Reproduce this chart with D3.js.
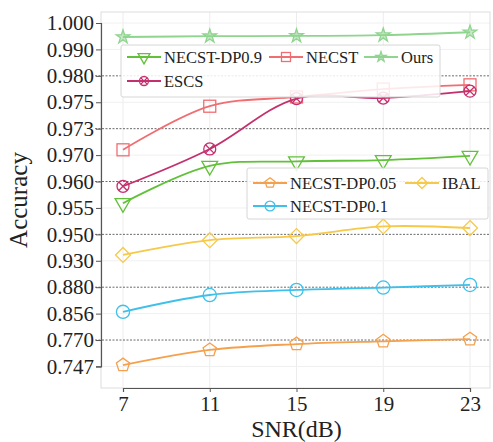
<!DOCTYPE html>
<html>
<head>
<meta charset="utf-8">
<script src="https://cdn.jsdelivr.net/npm/d3@7"></script>
<style>
  body { margin: 0; background: #fff; }
</style>
</head>
<body>
<div id="chart"></div>
<script>
// SNR values on x axis
const snr = [7, 11, 15, 19, 23];

// y axis tick labels (evenly spaced, non-linear)
const yTicks = [0.747, 0.770, 0.856, 0.880, 0.930, 0.950, 0.955, 0.960, 0.970, 0.973, 0.975, 0.980, 0.990, 1.000];
const dashedTicks = [0.980, 0.973, 0.960, 0.950, 0.880, 0.770];

// series values
const ours      = [0.9947, 0.9950, 0.9951, 0.9954, 0.9965];
const necst     = [0.9706, 0.9747, 0.9760, 0.9775, 0.9783];
const escs      = [0.9591, 0.9707, 0.9757, 0.9758, 0.9771];
const necstDp09 = [0.9559, 0.9659, 0.9676, 0.9681, 0.9697];
const ibal      = [0.9344, 0.9456, 0.9487, 0.9515, 0.9512];
const necstDp01 = [0.8576, 0.8729, 0.8775, 0.8797, 0.8843];
const necstDp05 = [0.7482, 0.7614, 0.7665, 0.7689, 0.7729];

const series = [
  { name: "NECST-DP0.9", values: necstDp09, color: "#62c03a", marker: "triDown" },
  { name: "NECST", values: necst, color: "#f06d72", marker: "square" },
  { name: "Ours", values: ours, color: "#8fd48f", marker: "star" },
  { name: "ESCS", values: escs, color: "#c4306e", marker: "xcircle" },
  { name: "NECST-DP0.05", values: necstDp05, color: "#f5a04c", marker: "pentagon" },
  { name: "IBAL", values: ibal, color: "#f6c94a", marker: "diamond" },
  { name: "NECST-DP0.1", values: necstDp01, color: "#3fc0ea", marker: "circle" }
];

const FONT = "'Liberation Serif', 'Times New Roman', Times, 'DejaVu Serif', serif";
const W = 493, H = 442;
const margin = { top: 12, right: 3, bottom: 54, left: 101 };
const iw = W - margin.left - margin.right;
const ih = H - margin.top - margin.bottom;

const svg = d3.select("#chart").append("svg").attr("width", W).attr("height", H)
  .style("font-family", FONT);
const g = svg.append("g").attr("transform", `translate(${margin.left},${margin.top})`);

const x = d3.scaleLinear().domain([7, 23]).range([22, 369]);
// piecewise scale: each tick label sits at an even step
const yTop = 11, yStep = 26.42;
const y = d3.scaleLinear()
  .domain(yTicks)
  .range(yTicks.map((d, i) => yTop + (yTicks.length - 1 - i) * yStep));

// light grid
g.append("g").selectAll("line").data(snr).join("line")
  .attr("x1", d => x(d)).attr("x2", d => x(d)).attr("y1", 0).attr("y2", ih)
  .attr("stroke", "#ececec").attr("stroke-width", 1);
g.append("g").selectAll("line").data(yTicks.filter(t => !dashedTicks.includes(t))).join("line")
  .attr("x1", 0).attr("x2", iw).attr("y1", d => y(d)).attr("y2", d => y(d))
  .attr("stroke", "#f0f0f0").attr("stroke-width", 1);

// dashed reference lines
g.append("g").selectAll("line").data(dashedTicks).join("line")
  .attr("x1", -6).attr("x2", iw).attr("y1", d => y(d)).attr("y2", d => y(d))
  .attr("stroke", "#6a6a6a").attr("stroke-width", 1).attr("stroke-dasharray", "2,1.5");

// frame
g.append("rect").attr("width", iw).attr("height", ih)
  .attr("fill", "none").attr("stroke", "#dddddd");

// axes
const yAxis = g.append("g").call(d3.axisLeft(y).tickValues(yTicks).tickFormat(d3.format(".3f")).tickSize(5).tickPadding(2));
const xAxis = g.append("g").attr("transform", `translate(0,${ih})`)
  .call(d3.axisBottom(x).tickValues(snr).tickSize(4).tickPadding(4));
[yAxis, xAxis].forEach(a => {
  a.attr("font-family", null).attr("font-size", null);
  a.select(".domain").attr("stroke", "#555").attr("stroke-width", 1.2);
  a.selectAll(".tick line").attr("stroke", "#555");
  a.selectAll("text").attr("fill", "#222").style("font-family", FONT).style("font-size", "21px");
});

svg.append("text").attr("x", margin.left + x(15)).attr("y", 437)
  .attr("text-anchor", "middle").style("font-size", "24px").style("font-family", FONT)
  .attr("fill", "#222").text("SNR(dB)");
svg.append("text").attr("transform", `translate(27,${margin.top + ih / 2}) rotate(-90)`)
  .attr("text-anchor", "middle").style("font-size", "25px").style("font-family", FONT)
  .attr("fill", "#222").text("Accuracy");

// markers
function drawMarker(sel, type, color, s) {
  let el;
  if (type === "circle") {
    el = sel.append("circle").attr("r", s * 0.55);
  } else if (type === "square") {
    el = sel.append("rect").attr("x", -s / 2).attr("y", -s / 2).attr("width", s).attr("height", s);
  } else if (type === "xcircle") {
    sel.append("path").attr("d", `M${-s*0.35},${-s*0.35}L${s*0.35},${s*0.35}M${-s*0.35},${s*0.35}L${s*0.35},${-s*0.35}`)
      .attr("stroke", color).attr("stroke-width", 1.3);
    el = sel.append("circle").attr("r", s * 0.5);
  } else if (type === "pentagon") {
    const r = s * 0.58;
    const pts = d3.range(5).map(i => {
      const a = -Math.PI / 2 + i * 2 * Math.PI / 5;
      return [r * Math.cos(a), r * Math.sin(a)];
    });
    el = sel.append("path").attr("d", "M" + pts.join("L") + "Z");
  } else if (type === "diamond") {
    const r = s * 0.62;
    el = sel.append("path").attr("d", `M0,${-r}L${r},0L0,${r}L${-r},0Z`);
  } else if (type === "triDown") {
    el = sel.append("path").attr("d", d3.symbol(d3.symbolTriangle, s * s * 0.75)()).attr("transform", "rotate(180)");
  } else {
    el = sel.append("path").attr("d", d3.symbol(d3.symbolStar, s * s * 0.4)());
  }
  el.attr("fill", type === "star" ? color : "none").attr("fill-opacity", 0.5)
    .attr("stroke", color).attr("stroke-width", 1.3);
}

const line = d3.line().x((d, i) => x(snr[i])).y(d => y(d)).curve(d3.curveCatmullRom.alpha(0.5));

series.forEach(s => {
  g.append("path").datum(s.values).attr("d", line)
    .attr("fill", "none").attr("stroke", s.color).attr("stroke-width", 1.8);
  s.values.forEach((v, i) => {
    const m = g.append("g").attr("transform", `translate(${x(snr[i])},${y(v)})`);
    drawMarker(m, s.marker, s.color, 12);
  });
});

// legends
function legend(items, box, cols) {
  const lg = svg.append("g");
  lg.append("rect").attr("x", box.x).attr("y", box.y).attr("width", box.w).attr("height", box.h)
    .attr("rx", 2).attr("fill", "#fff").attr("fill-opacity", 0.85).attr("stroke", "#d6d6d6");
  items.forEach((s, i) => {
    const [lx, ly] = cols[i];
    lg.append("line").attr("x1", lx).attr("x2", lx + 34).attr("y1", ly).attr("y2", ly)
      .attr("stroke", s.color).attr("stroke-width", 1.8);
    drawMarker(lg.append("g").attr("transform", `translate(${lx + 17},${ly})`), s.marker, s.color, 9);
    lg.append("text").attr("x", lx + 37).attr("y", ly).attr("dy", "0.35em")
      .style("font-size", "16.5px").style("font-family", FONT).attr("fill", "#222").text(s.name);
  });
}
legend(series.slice(0, 4), { x: 121, y: 45, w: 319, h: 52 },
  [[127, 57], [269, 57], [364, 57], [127, 81]]);
legend(series.slice(4), { x: 247, y: 168, w: 241, h: 51 },
  [[253, 183], [405, 183], [253, 206]]);
</script>
</body>
</html>
